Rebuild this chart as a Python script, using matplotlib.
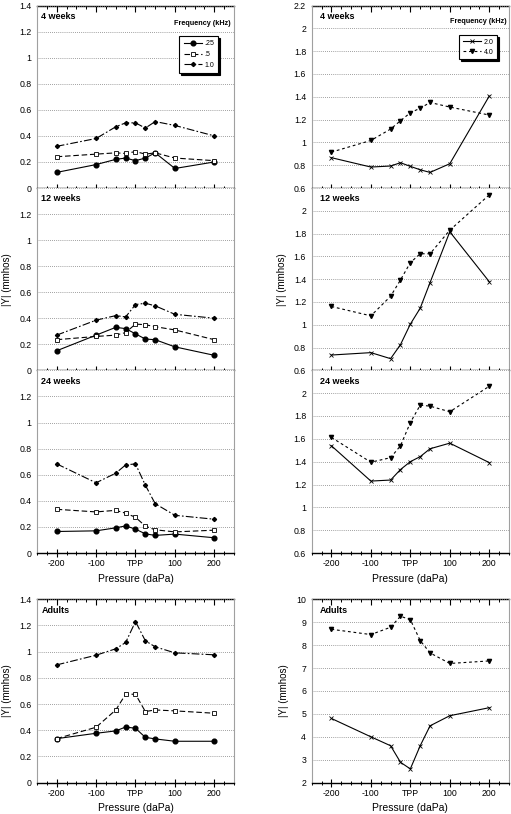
import matplotlib.pyplot as plt
from matplotlib.lines import Line2D
from matplotlib.ticker import FixedLocator, MultipleLocator

plt.rcParams['font.family'] = ['Liberation Sans', 'DejaVu Sans']

# --------------------------------------------------------------------------
# DATA (|Y| in mmhos)
# --------------------------------------------------------------------------

pressure = [-200, -100, -50, -25, 0, 25, 50, 100, 200]
tick_pos = [-200, -100, 0, 100, 200]
tick_labels = ['-200', '-100', 'TPP', '100', '200']
panel_names = ['4 weeks', '12 weeks', '24 weeks', 'Adults']
low_freqs = ['.25', '.5', '1.0']
high_freqs = ['2.0', '4.0']

# left column: .25, .5, 1.0 kHz
w4_025 = [0.12, 0.18, 0.22, 0.23, 0.21, 0.23, 0.27, 0.15, 0.20]
w4_05 = [0.24, 0.26, 0.27, 0.265, 0.28, 0.26, 0.27, 0.23, 0.21]
w4_10 = [0.32, 0.38, 0.47, 0.50, 0.50, 0.46, 0.51, 0.48, 0.40]

w12_025 = [0.15, 0.27, 0.33, 0.32, 0.28, 0.24, 0.235, 0.18, 0.115]
w12_05 = [0.235, 0.26, 0.27, 0.29, 0.355, 0.35, 0.335, 0.31, 0.235]
w12_10 = [0.27, 0.385, 0.42, 0.41, 0.505, 0.515, 0.495, 0.43, 0.40]

w24_025 = [0.165, 0.17, 0.193, 0.208, 0.183, 0.147, 0.135, 0.145, 0.117]
w24_05 = [0.335, 0.315, 0.327, 0.305, 0.274, 0.206, 0.178, 0.162, 0.175]
w24_10 = [0.683, 0.538, 0.612, 0.675, 0.683, 0.52, 0.378, 0.289, 0.259]

ad_025 = [0.336, 0.377, 0.395, 0.425, 0.415, 0.346, 0.334, 0.316, 0.316]
ad_05 = [0.336, 0.423, 0.555, 0.675, 0.675, 0.543, 0.555, 0.548, 0.53]
ad_10 = [0.899, 0.973, 1.022, 1.07, 1.23, 1.083, 1.037, 0.991, 0.976]

# right column: 2.0, 4.0 kHz
w4_20 = [0.866, 0.784, 0.793, 0.822, 0.79, 0.76, 0.737, 0.813, 1.406]
w4_40 = [0.915, 1.017, 1.117, 1.19, 1.26, 1.30, 1.35, 1.31, 1.24]

w12_20 = [0.734, 0.755, 0.702, 0.825, 1.005, 1.145, 1.37, 1.816, 1.378]
w12_40 = [1.16, 1.078, 1.25, 1.393, 1.545, 1.623, 1.623, 1.83, 2.14]

w24_20 = [1.539, 1.23, 1.239, 1.331, 1.40, 1.444, 1.513, 1.562, 1.392]
w24_40 = [1.612, 1.395, 1.435, 1.539, 1.742, 1.895, 1.886, 1.837, 2.06]

ad_20 = [4.80, 4.00, 3.61, 2.89, 2.60, 3.61, 4.48, 4.92, 5.27]
ad_40 = [8.69, 8.46, 8.78, 9.26, 9.11, 8.20, 7.66, 7.20, 7.31]

low_data = [[w4_025, w4_05, w4_10], [w12_025, w12_05, w12_10],
            [w24_025, w24_05, w24_10], [ad_025, ad_05, ad_10]]
high_data = [[w4_20, w4_40], [w12_20, w12_40],
             [w24_20, w24_40], [ad_20, ad_40]]

left_yticks = [0, 0.2, 0.4, 0.6, 0.8, 1.0, 1.2, 1.4]
right_yticks = [0.6, 0.8, 1.0, 1.2, 1.4, 1.6, 1.8, 2.0, 2.2]
adult_right_yticks = [2, 3, 4, 5, 6, 7, 8, 9, 10]

# --------------------------------------------------------------------------
# STYLES
# --------------------------------------------------------------------------

low_styles = [
    dict(ls='-', marker='o', ms=3.4, mfc='black', mec='black'),
    dict(ls='--', dashes=(5, 2.5), marker='s', ms=3.0, mfc='white', mec='black', mew=0.6),
    dict(ls='-.', dashes=(7, 2, 1.5, 2), marker='D', ms=2.1, mfc='black', mec='black'),
]
high_styles = [
    dict(ls='-', marker='x', ms=3.4, mew=0.6, mec='black'),
    dict(ls='--', dashes=(2.5, 2.5), marker='v', ms=3.0, mfc='black', mec='black'),
]

rows = [(0.7690, 0.2242), (0.5451, 0.2239), (0.3206, 0.2245), (0.0385, 0.2253)]
col_x = [(0.0724, 0.3855), (0.610, 0.386)]


def style_axes(ax, row, yticks, name, name_x):
    ax.set_xlim(-250, 250)
    ax.set_ylim(yticks[0], yticks[-1])
    ax.xaxis.set_major_locator(FixedLocator(tick_pos))
    ax.xaxis.set_minor_locator(MultipleLocator(25))
    ax.tick_params(axis='x', which='major', direction='inout', length=6, width=0.8,
                   labelsize=6.3, pad=1.5, labelbottom=row >= 2)
    ax.tick_params(axis='x', which='minor', direction='inout', length=3, width=0.7)
    if row >= 2:
        ax.set_xticklabels(tick_labels)
        ax.set_xlabel('Pressure (daPa)', fontsize=7.5, labelpad=4)

    labels = ['%g' % v for v in yticks]
    if row in (1, 2):
        labels[-1] = ''
    ax.set_yticks(yticks)
    ax.set_yticklabels(labels)
    ax.tick_params(axis='y', length=0, labelsize=6.3, pad=4)
    ax.yaxis.grid(True, color='#808080', linestyle=(0, (1, 1.5)), linewidth=0.6)
    ax.set_axisbelow(True)

    for side in ('left', 'right'):
        ax.spines[side].set_color('#a0a0a0')
        ax.spines[side].set_linewidth(0.8)
    ax.spines['bottom'].set_linewidth(1.0)
    ax.spines['top'].set_visible(False)
    if row in (0, 3):
        sec = ax.secondary_xaxis('top')
        sec.xaxis.set_major_locator(FixedLocator(tick_pos))
        sec.xaxis.set_minor_locator(MultipleLocator(25))
        sec.tick_params(which='major', direction='in', length=4, width=0.8, labeltop=False)
        sec.tick_params(which='minor', direction='in', length=2.5, width=0.7)
        sec.spines['top'].set_linewidth(1.0)

    if row in (1, 3):
        ax.set_ylabel('|Y| (mmhos)', fontsize=7, labelpad=5)

    ax.text(name_x, 0.94, name, transform=ax.transAxes, fontsize=6.5,
            fontweight='bold', va='center', ha='left')


fig = plt.figure(figsize=(5.11, 8.14), dpi=100)
shadow = {'color': 'black', 'alpha': 1, 'ox': 1.3, 'oy': -1.3}

for row in range(4):
    y0, h = rows[row]

    # left column
    ax = fig.add_axes([col_x[0][0], y0, col_x[0][1], h])
    for vals, st in zip(low_data[row], low_styles):
        ax.plot(pressure, vals, color='black', lw=0.8, clip_on=False, **st)
    style_axes(ax, row, left_yticks, panel_names[row], 0.022)
    if row == 0:
        handles = [Line2D([], [], color='black', lw=0.8, **st) for st in low_styles]
        ax.legend(handles, low_freqs, loc='upper left', bbox_to_anchor=(0.705, 0.852),
                  fontsize=5, frameon=True, fancybox=False, edgecolor='black',
                  framealpha=1, shadow=shadow,
                  handlelength=2.6, handletextpad=0.4, borderpad=0.6, labelspacing=0.55)
        ax.get_legend().get_frame().set_linewidth(0.8)
        ax.text(0.84, 0.904, 'Frequency (kHz)', transform=ax.transAxes,
                fontsize=5.2, fontweight='bold', ha='center', va='center')

    # right column
    ax = fig.add_axes([col_x[1][0], y0, col_x[1][1], h])
    for vals, st in zip(high_data[row], high_styles):
        ax.plot(pressure, vals, color='black', lw=0.8, clip_on=False, **st)
    yt = adult_right_yticks if row == 3 else right_yticks
    style_axes(ax, row, yt, panel_names[row], 0.04)
    if row == 0:
        handles = [Line2D([], [], color='black', lw=0.8, **st) for st in high_styles]
        ax.legend(handles, high_freqs, loc='upper left', bbox_to_anchor=(0.73, 0.857),
                  fontsize=5, frameon=True, fancybox=False, edgecolor='black',
                  framealpha=1, shadow=shadow,
                  handlelength=2.6, handletextpad=0.4, borderpad=0.5, labelspacing=0.45)
        ax.get_legend().get_frame().set_linewidth(0.8)
        ax.text(0.846, 0.915, 'Frequency (kHz)', transform=ax.transAxes,
                fontsize=5.2, fontweight='bold', ha='center', va='center')

fig.savefig('out.png', dpi=100)
